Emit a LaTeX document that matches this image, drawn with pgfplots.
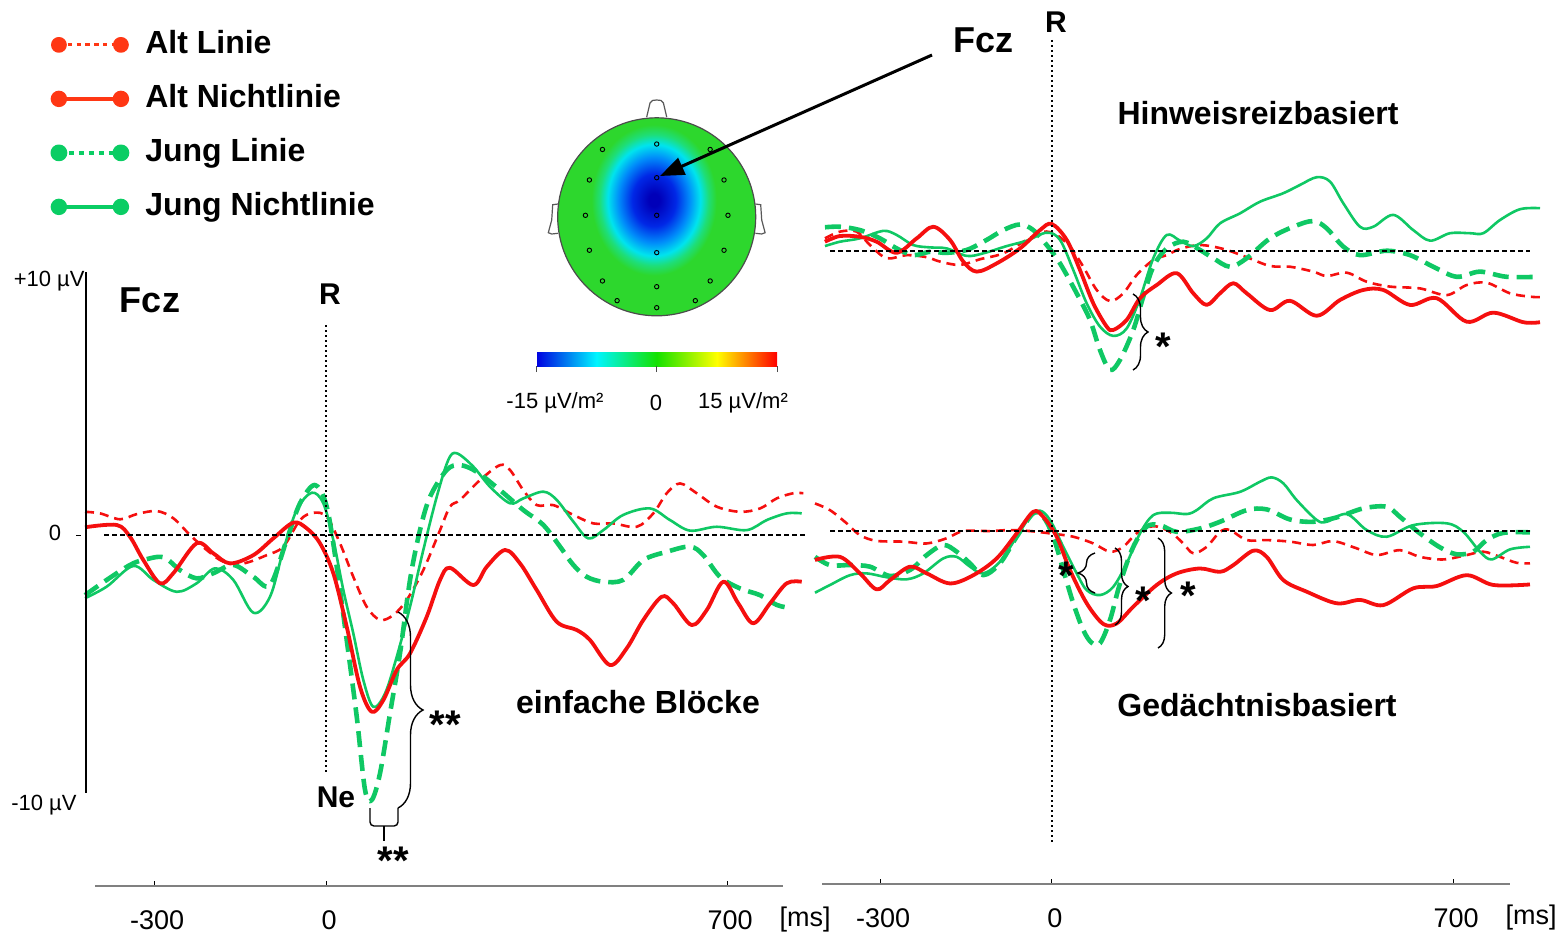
\documentclass[border=0pt]{standalone}
\usepackage{pgfplots}
\pgfplotsset{compat=1.18}
\usepackage{fontspec}
\setmainfont{Liberation Sans}
\usetikzlibrary{decorations.pathreplacing,arrows.meta}
\definecolor{cred}{RGB}{245,15,15}
\definecolor{cgreen}{RGB}{15,200,100}
\definecolor{legred}{RGB}{255,55,20}
\definecolor{legreen}{RGB}{10,205,100}
\definecolor{headgreen}{RGB}{45,215,45}
\definecolor{tb0}{RGB}{0,0,185}
\definecolor{tb1}{RGB}{0,40,230}
\definecolor{tb2}{RGB}{0,140,250}
\definecolor{tb3}{RGB}{0,228,238}
\definecolor{tb4}{RGB}{30,222,120}
\pgfdeclareradialshading{blob}{\pgfpoint{0bp}{0bp}}{color(0bp)=(tb0); color(2bp)=(tb0); color(8bp)=(tb1); color(13bp)=(tb2); color(17bp)=(tb3); color(20bp)=(tb4); color(23bp)=(headgreen); color(50bp)=(headgreen)}
\pgfplotsset{colormap={topo}{rgb255=(0,0,225) rgb255=(0,245,255) rgb255=(20,225,0) rgb255=(255,255,0) rgb255=(255,0,0)}}
\tikzset{
 altlinie/.style={cred, line width=1.3pt, dash pattern=on 4.5pt off 3pt},
 altnicht/.style={cred, line width=1.9pt},
 junglinie/.style={cgreen, line width=2.3pt, dash pattern=on 8pt off 4pt},
 jungnicht/.style={cgreen, line width=1.3pt},
 lbl/.style={font=\fontsize{16}{19}\selectfont\bfseries},
 big/.style={font=\fontsize{18}{21}\selectfont\bfseries},
 rl/.style={font=\fontsize{15}{18}\selectfont\bfseries},
 tk/.style={font=\fontsize{13.5}{16}\selectfont},
 small/.style={font=\fontsize{11}{13}\selectfont},
 star/.style={font=\fontsize{20}{20}\selectfont\bfseries, anchor=base, inner sep=0pt},
 zerol/.style={black, line width=0.6pt, dash pattern=on 2.5pt off 1.5pt},
 rline/.style={black, line width=0.8pt, dash pattern=on 1pt off 1.5pt},
 br/.style={black, line width=0.7pt, decorate},
}
\pgfplotsset{eeg/.style={x=0.2865pt, y=12.9pt, clip=false, enlargelimits=false,
  xtick={-300,0,700}, xticklabels={-300,0,700}, tick align=inside, major tick length=2.5pt,
  tick style={black, line width=0.5pt}, axis line style={draw=gray, line width=1pt, -},
  xticklabel style={font=\fontsize{13.5}{16}\selectfont, anchor=center, yshift=-17pt, xshift=1.5pt},
  ytick=\empty, every axis plot/.append style={smooth, tension=0.55, line join=round}}}
\begin{document}
\begin{tikzpicture}
\useasboundingbox (0,0) rectangle (783pt,-468pt);
% ---------- head drawing ----------
\begin{scope}[x=0.5pt,y=-0.5pt]
 \draw[gray!70!black, line width=0.6pt, fill=white] (646.7,117) -- (650,103) to[out=80,in=180] (656.7,100) to[out=0,in=100] (663.4,103) -- (666.7,117);
 \draw[gray!70!black, line width=0.6pt, fill=white] (558,204) -- (552.7,204.7) -- (551.7,220) -- (548.3,232.7) -- (551.7,234) -- (558,233.3);
 \draw[gray!70!black, line width=0.6pt, fill=white] (755.4,204) -- (760.7,204.7) -- (761.7,220) -- (765.1,232.7) -- (761.7,234) -- (755.4,233.3);
 \fill[headgreen] (656.7,216.8) circle [radius=49.5pt];
 \begin{scope}
  \clip (656.7,216.8) circle [radius=49.5pt];
  \shade[shading=blob] (654,200) ellipse [x radius=34pt, y radius=41pt];
 \end{scope}
 \draw[gray!60!black, line width=0.6pt] (656.7,216.8) circle [radius=49.5pt];
\end{scope}
% ---------- topography axis (electrodes + colour bar) ----------
\begin{axis}[at={(268.95pt,-176pt)}, anchor=south west, x=49.5pt, y=49.5pt,
  xmin=-1.2, xmax=1.2, ymin=-1.3657, ymax=1.2, hide axis, clip=false,
  colormap name=topo, point meta min=-15, point meta max=15, colorbar horizontal,
  colorbar style={at={(parent axis.south)}, anchor=north, yshift=8.5pt, scale only axis, width=120.5pt, height=7pt,
    xtick={-15,0,15}, xticklabels={}, xtick pos=left, tick align=outside, major tick length=3pt,
    axis line style={draw=none}, tick style={black!70, line width=0.5pt}}]
\addplot[only marks, mark=o, mark size=1.1pt, black, line width=0.45pt] coordinates {
(0,0.735) (-0.548,0.68) (0.54,0.68) (-0.68,0.372) (0,0.395) (0.68,0.372) (-0.72,0.015) (0,0.015) (0.72,0.015)
(-0.68,-0.338) (0,-0.362) (0.68,-0.338) (-0.548,-0.648) (0,-0.706) (0.54,-0.648) (-0.40,-0.847) (0.39,-0.847) (0,-0.918)};
\end{axis}
% ---------- left panel: einfache Bloecke ----------
\begin{axis}[eeg, at={(47.55pt,-442.95pt)}, anchor=south west,
  xmin=-403, xmax=797, ymin=-13.6, ymax=10.5,
  axis x line*=bottom, axis y line=none,
  legend cell align=left,
  legend style={at={(axis cs:-492,19.75)}, anchor=north west, draw=none, fill=none,
    font=\fontsize{16}{19}\selectfont\bfseries, row sep=12pt, column sep=8pt,
    nodes={inner sep=0pt, text height=12pt, text depth=3pt}}]
\addlegendimage{legred, line width=1.5pt, dash pattern=on 2.2pt off 2.2pt, legend image code/.code={\draw (0pt,0pt) -- (31pt,0pt); \fill[solid] (0pt,0pt) circle (3.2pt); \fill[solid] (31pt,0pt) circle (3.2pt);}}
\addlegendentry{Alt Linie}
\addlegendimage{legred, line width=1.8pt, legend image code/.code={\draw (0pt,0pt) -- (31pt,0pt); \fill (0pt,0pt) circle (3.2pt); \fill (31pt,0pt) circle (3.2pt);}}
\addlegendentry{Alt Nichtlinie}
\addlegendimage{legreen, line width=2pt, dash pattern=on 2.6pt off 2.4pt, legend image code/.code={\draw (0pt,0pt) -- (31pt,0pt); \fill[solid] (0pt,0pt) circle (3.2pt); \fill[solid] (31pt,0pt) circle (3.2pt);}}
\addlegendentry{Jung Linie}
\addlegendimage{legreen, line width=1.8pt, legend image code/.code={\draw (0pt,0pt) -- (31pt,0pt); \fill (0pt,0pt) circle (3.2pt); \fill (31pt,0pt) circle (3.2pt);}}
\addlegendentry{Jung Nichtlinie}
% Alt Linie
\addplot[altlinie] coordinates {(-420.6,0.90) (-394.4,0.84) (-359.5,0.61) (-330.4,0.81) (-295.5,0.93) (-266.5,0.65) (-237.3,0) (-208.2,-0.58) (-179.2,-1.03) (-144.3,-1.10) (-103.5,-0.78) (-74.5,-0.45) (-45.4,0.58) (-22.2,0.86) (1.2,0.71) (24.4,-0.32) (47.6,-1.62) (71.0,-2.78) (94.2,-3.29) (117.5,-3.10) (140.8,-2.52) (169.8,-1.36) (199.0,0.19) (216.4,1.10) (233.9,1.36) (268.8,2.13) (303.7,2.71) (321.1,2.52) (344.3,1.74) (367.7,1.16) (396.7,1.16) (431.6,0.78) (466.5,0.45) (501.4,0.45) (542.2,0.32) (571.2,0.84) (594.6,1.62) (617.8,2.00) (646.9,1.62) (681.8,1.10) (722.5,0.90) (757.4,1.03) (786.6,1.42) (815.5,1.62) (833,1.62)};
% Jung Linie
\addplot[junglinie] coordinates {(-420.6,-2.33) (-382.7,-1.74) (-342.1,-1.16) (-318.8,-0.97) (-284.0,-0.86) (-254.8,-1.36) (-225.7,-1.68) (-196.7,-1.48) (-161.8,-1.16) (-126.9,-1.62) (-97.7,-1.94) (-68.6,-0.19) (-45.4,1.23) (-19.2,1.94) (1.2,1.10) (18.7,-1.23) (36.1,-4.07) (53.6,-7.04) (68.1,-9.88) (79.8,-10.27) (94.2,-9.24) (111.7,-6.91) (129.1,-4.59) (146.6,-1.74) (164.0,0.19) (181.5,1.48) (210.6,2.52) (233.9,2.71) (263.0,2.45) (303.7,1.74) (344.3,0.97) (379.2,0.39) (408.4,-0.45) (431.6,-1.16) (455.0,-1.62) (483.9,-1.81) (518.8,-1.74) (553.8,-0.97) (594.6,-0.65) (635.3,-0.45) (658.5,-0.78) (687.6,-1.62) (722.5,-2.07) (757.4,-2.33) (786.6,-2.71) (812.7,-2.84)};
% Jung Nichtlinie
\addplot[jungnicht] coordinates {(-420.6,-2.45) (-382.7,-2.00) (-336.3,-1.20) (-301.4,-1.74) (-260.6,-2.20) (-225.7,-1.87) (-193.7,-1.29) (-161.8,-1.74) (-126.9,-3.01) (-97.7,-2.39) (-74.5,-0.58) (-51.1,0.97) (-25.0,1.64) (-4.7,1.23) (12.7,-0.19) (30.2,-2.13) (47.6,-3.81) (65.1,-5.62) (82.5,-6.66) (103.0,-6.14) (123.4,-4.72) (146.6,-2.78) (169.8,-0.58) (193.2,1.48) (213.4,2.91) (228.1,3.17) (257.1,2.65) (286.2,1.87) (321.1,1.23) (344.3,1.42) (379.2,1.68) (402.6,1.36) (431.6,0.52) (457.8,-0.13) (483.9,0.19) (518.8,0.78) (565.4,1.03) (600.3,0.58) (635.3,0.17) (681.8,0.32) (734.2,0.19) (769.1,0.58) (804,0.84) (830.2,0.84)};
% Alt Nichtlinie
\addplot[altnicht] coordinates {(-420.6,0.30) (-365.3,0.39) (-342.1,-0.07) (-318.8,-0.97) (-289.7,-1.87) (-266.5,-1.48) (-225.7,-0.32) (-196.7,-0.71) (-167.5,-1.10) (-126.9,-0.78) (-92.0,-0.13) (-57.1,0.48) (-33.7,0.26) (-10.5,-0.32) (12.7,-1.48) (36.1,-3.55) (59.3,-5.88) (79.8,-6.85) (100,-6.40) (123.4,-5.23) (146.6,-4.59) (175.7,-3.17) (199,-1.74) (216.4,-1.27) (257.1,-1.94) (280.5,-1.23) (312.4,-0.58) (338.6,-1.10) (367.7,-2.13) (402.6,-3.36) (437.5,-3.68) (460.7,-4.07) (495.6,-5.04) (524.8,-4.39) (553.8,-3.29) (585.9,-2.39) (606.1,-2.65) (638.2,-3.49) (664.4,-2.91) (693.4,-1.81) (719.5,-2.65) (745.7,-3.42) (774.9,-2.65) (804,-1.87) (830.2,-1.81)};
\end{axis}
% ---------- right top panel: Hinweisreizbasiert ----------
\begin{axis}[eeg, at={(411.1pt,-190pt)}, anchor=south west, xmin=-401, xmax=799, ymin=-5, ymax=4, hide axis]
\addplot[altlinie] coordinates {(-396.2,0.49) (-370.0,0.75) (-340.8,0.75) (-317.6,0.23) (-288.5,-0.28) (-253.6,-0.16) (-218.7,-0.24) (-195.5,-0.41) (-160.6,-0.54) (-125.7,-0.32) (-85.0,-0.09) (-44.2,0.43) (-15.2,0.75) (8.2,0.62) (31.4,0.17) (54.6,-0.61) (78.0,-1.51) (101.2,-1.94) (124.4,-1.64) (147.8,-0.93) (176.8,-0.35) (200.2,-0.16) (223.4,0.08) (258.3,0.23) (298.9,0.08) (339.8,-0.24) (380.5,-0.58) (415.4,-0.61) (456.0,-0.80) (479.4,-0.97) (514.3,-0.84) (549.2,-1.19) (589.9,-1.38) (642.2,-1.45) (688.8,-1.71) (723.7,-1.32) (758.6,-1.23) (799.3,-1.64) (834.2,-1.77) (851.7,-1.79)};
\addplot[junglinie] coordinates {(-396.2,0.92) (-370.0,0.94) (-335.1,0.81) (-300.2,0.49) (-271.0,0.10) (-242.1,-0.16) (-212.9,-0.03) (-183.8,-0.07) (-148.9,0.04) (-114.0,0.43) (-85.0,0.81) (-55.8,1.03) (-32.6,0.81) (-9.2,0.23) (14.0,-0.48) (43.1,-1.64) (66.3,-2.67) (83.8,-3.84) (101.2,-4.61) (118.7,-4.22) (141.9,-3.06) (159.3,-1.77) (176.8,-0.61) (200.2,0.10) (229.1,0.36) (258.3,0.04) (281.5,-0.28) (310.6,-0.61) (339.8,-0.28) (380.5,0.49) (421.1,0.94) (456.0,1.16) (479.4,0.88) (508.4,0.17) (537.5,-0.16) (584.1,0.01) (624.8,-0.16) (665.4,-0.61) (706.3,-1.00) (746.9,-0.80) (793.5,-1.00) (851.7,-1.00)};
\addplot[jungnicht] coordinates {(-396.2,0.19) (-370.0,0.36) (-335.1,0.49) (-294.4,0.78) (-271.0,0.62) (-242.1,0.23) (-212.9,0.14) (-183.8,0.10) (-148.9,-0.19) (-119.9,-0.09) (-79.1,0.19) (-44.2,0.40) (-9.2,0.71) (14.0,0.43) (37.2,-0.74) (60.6,-2.03) (83.8,-2.93) (107.0,-3.29) (130.4,-3.00) (153.6,-1.83) (176.8,-0.28) (200.2,0.62) (223.4,0.40) (246.6,0.19) (270.0,0.49) (293.2,1.07) (328.1,1.46) (363.0,1.91) (403.7,2.24) (432.8,2.56) (462.0,2.86) (485.2,2.69) (508.4,1.85) (537.5,0.94) (560.7,0.94) (595.6,1.40) (630.5,0.81) (659.7,0.40) (694.6,0.69) (729.5,0.69) (752.7,0.69) (781.8,1.20) (816.8,1.62) (851.7,1.66)};
\addplot[altnicht] coordinates {(-396.2,0.36) (-370.0,0.58) (-335.1,0.55) (-306.0,0.36) (-271.0,-0.07) (-236.1,0.49) (-207.2,0.94) (-178.0,0.43) (-154.8,-0.41) (-131.4,-0.80) (-96.5,-0.48) (-55.8,0.10) (-20.9,0.81) (-0.5,1.05) (25.7,0.43) (48.9,-0.74) (72.1,-2.03) (95.5,-2.93) (107.0,-3.06) (130.4,-2.67) (153.6,-1.83) (182.7,-1.32) (217.6,-0.86) (246.6,-1.64) (270.0,-2.09) (293.2,-1.64) (316.4,-1.25) (339.8,-1.64) (380.5,-2.29) (415.4,-1.93) (462.0,-2.51) (502.6,-1.90) (543.3,-1.51) (578.2,-1.51) (624.8,-2.09) (671.4,-1.83) (723.7,-2.74) (770.2,-2.39) (822.5,-2.76) (851.7,-2.76)};
\end{axis}
% ---------- right bottom panel: Gedaechtnisbasiert ----------
\begin{axis}[eeg, at={(411.1pt,-442pt)}, anchor=south west, xmin=-401, xmax=799, ymin=-13.68, ymax=3,
  axis x line*=bottom, axis y line=none]
\addplot[altlinie] coordinates {(-413.6,1.07) (-387.4,0.81) (-358.3,0.30) (-335.1,-0.16) (-306.0,-0.38) (-259.5,-0.41) (-218.7,-0.48) (-183.8,-0.28) (-154.8,0) (-108.2,0) (-73.3,0.04) (-38.4,0) (-3.5,-0.09) (37.2,-0.22) (72.1,-0.48) (101.2,-0.80) (124.4,-0.61) (147.8,-0.09) (176.8,0.19) (205.9,-0.03) (229.1,-0.48) (246.6,-0.86) (270.0,-0.61) (293.2,-0.03) (310.6,0.04) (339.8,-0.35) (374.7,-0.35) (415.4,-0.41) (456.0,-0.54) (490.9,-0.39) (531.8,-0.67) (566.7,-0.93) (607.3,-0.74) (642.2,-1.00) (682.9,-1.10) (723.7,-0.93) (752.7,-0.80) (781.8,-1.00) (810.9,-1.23) (834.2,-1.25)};
\addplot[junglinie] coordinates {(-413.6,-1.00) (-387.4,-1.32) (-352.5,-1.32) (-317.6,-1.38) (-282.7,-1.74) (-247.8,-1.51) (-218.7,-0.93) (-189.7,-0.54) (-166.3,-0.80) (-143.1,-1.25) (-119.9,-1.71) (-90.8,-1.25) (-61.6,-0.22) (-32.6,0.69) (-15.2,0.55) (2.3,-0.22) (19.7,-1.51) (37.2,-2.80) (54.6,-3.84) (69.3,-4.33) (83.8,-4.35) (101.2,-3.45) (118.7,-2.03) (141.9,-0.61) (165.3,0.17) (188.5,0.23) (217.6,-0.03) (258.3,0.10) (293.2,0.36) (339.8,0.81) (374.7,0.84) (415.4,0.45) (456.0,0.36) (496.9,0.53) (543.3,0.88) (584.1,0.94) (607.3,0.55) (642.2,-0.09) (677.1,-0.63) (706.3,-0.90) (735.3,-0.80) (758.6,-0.35) (787.6,-0.07) (834.2,-0.05)};
\addplot[jungnicht] coordinates {(-413.6,-2.39) (-387.4,-2.09) (-352.5,-1.71) (-323.4,-1.64) (-288.5,-1.79) (-253.6,-1.87) (-224.6,-1.64) (-189.7,-1.06) (-166.3,-1.00) (-143.1,-1.38) (-119.9,-1.64) (-90.8,-1.19) (-61.6,-0.22) (-38.4,0.55) (-20.9,0.79) (-3.5,0.43) (19.7,-0.61) (43.1,-1.64) (60.6,-2.29) (83.8,-2.48) (107.0,-2.16) (130.4,-1.25) (153.6,-0.09) (176.8,0.62) (205.9,0.71) (235.1,0.66) (252.5,0.81) (281.5,1.27) (328.1,1.52) (363.0,1.91) (383.4,2.08) (403.7,1.85) (427.1,1.20) (462.0,0.43) (479.4,0.36) (514.3,0.66) (549.2,0.04) (584.1,-0.22) (630.5,0.23) (688.8,0.30) (717.8,-0.03) (746.9,-0.80) (767.3,-1.10) (799.3,-0.71) (834.2,-0.61)};
\addplot[altnicht] coordinates {(-413.6,-1.12) (-370.0,-1.00) (-335.1,-1.64) (-306.0,-2.26) (-282.7,-1.90) (-247.8,-1.38) (-218.7,-1.64) (-178.0,-2.03) (-137.3,-1.71) (-96.5,-1.06) (-61.6,-0.09) (-32.6,0.75) (-15.2,0.55) (8.2,-0.22) (31.4,-1.51) (60.6,-2.80) (89.5,-3.60) (112.9,-3.58) (141.9,-2.93) (182.7,-2.09) (217.6,-1.64) (258.3,-1.45) (293.2,-1.58) (316.4,-1.32) (351.3,-0.76) (374.7,-1.00) (403.7,-1.90) (444.5,-2.35) (496.9,-2.80) (537.5,-2.67) (578.2,-2.87) (630.5,-2.22) (671.4,-2.13) (723.7,-1.71) (770.2,-2.09) (834.2,-2.07)};
\end{axis}
% ---------- annotations ----------
\begin{scope}[x=0.5pt,y=-0.5pt]
 % left panel frame items
 \draw[black, line width=0.6pt] (86,272) -- (86,793);
 \node[small, anchor=east, inner sep=0pt] at (85,281) {+10 µV};
 \node[small] at (55,533) {0};
 \draw[black, line width=0.5pt] (76,535) -- (81,535);
 \node[small, anchor=east, inner sep=0pt] at (77,805) {-10 µV};
 \draw[zerol] (104,535) -- (805,535);
 \draw[rline] (326,325) -- (326,775);
 \node[big] at (150,300) {Fcz};
 \node[rl] at (330,294) {R};
 \node[rl] at (336,797) {Ne};
 \node[lbl] at (638,702) {einfache Blöcke};
 \node[tk] at (805,920) {[ms]};
 \draw[br, decoration={brace, amplitude=12.5pt}] (398,612) -- (398,808);
 \node[star] at (445,738) {**};
 \draw[black, line width=0.7pt, rounded corners=2pt] (370,808) -- (370,826) -- (398,826) -- (398,808);
 \draw[black, line width=0.7pt] (384,826) -- (384,841);
 \node[star] at (393,874) {**};
 % right panels
 \draw[rline] (1052,40) -- (1052,845);
 \draw[zerol] (830,251) -- (1530,251);
 \draw[zerol] (830,531) -- (1530,531);
 \node[rl] at (1056,22) {R};
 \node[lbl] at (1258,113) {Hinweisreizbasiert};
 \node[lbl] at (1257,705) {Gedächtnisbasiert};
 \node[tk] at (1531,918) {[ms]};
 \draw[br, decoration={brace, amplitude=7.5pt}] (1133,294) -- (1133,370);
 \node[star] at (1163,360) {*};
 \draw[br, decoration={brace, amplitude=8.5pt}] (1095,593) -- (1095,553);
 \node[star] at (1066,589) {*};
 \draw[br, decoration={brace, amplitude=6.5pt}] (1115,548) -- (1115,625);
 \node[star] at (1143,614) {*};
 \draw[br, decoration={brace, amplitude=6.7pt}] (1158,538) -- (1158,648);
 \node[star] at (1188,609) {*};
 % topography labels and arrow
 \node[small] at (555,403) {-15 µV/m²};
 \node[small] at (656,403) {0};
 \node[small] at (743,403) {15 µV/m²};
 \node[big] at (983,40) {Fcz};
 \draw[black, line width=1.5pt, -{Triangle[length=12pt,width=9pt]}] (932,55) -- (660,176);
\end{scope}
\end{tikzpicture}
\end{document}
